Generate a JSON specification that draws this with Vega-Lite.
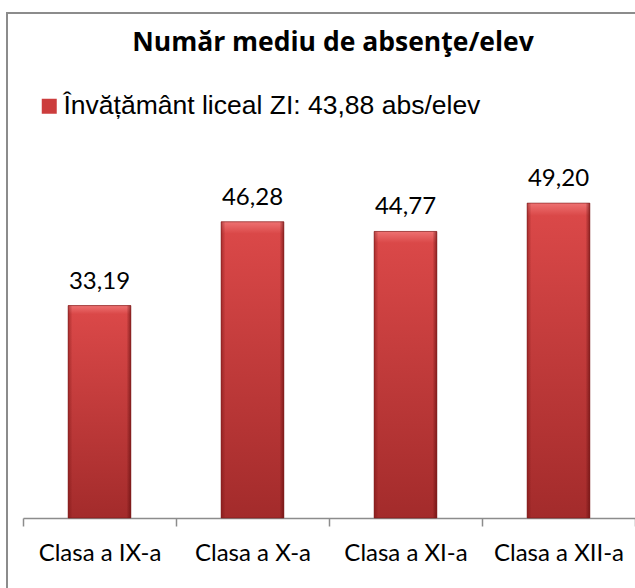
{
  "$schema": "https://vega.github.io/schema/vega-lite/v6.json",
  "width": 640,
  "height": 590,
  "autosize": {"type": "none"},
  "padding": {"left": 7, "top": 13, "right": 0, "bottom": 0},
  "background": "white",
  "config": {
    "view": {"stroke": "#8c8c8c", "strokeWidth": 2},
    "font": "Lato"
  },
  "title": {
    "text": "Număr mediu de absenţe/elev",
    "font": "Open Sans",
    "fontWeight": "bold",
    "fontSize": 26.5,
    "color": "black",
    "anchor": "middle",
    "offset": -43,
    "dx": 6
  },
  "data": {
    "values": [
      {"clasa": "Clasa a IX-a", "valoare": 33.19, "eticheta": "33,19", "serie": "Învățământ liceal ZI: 43,88 abs/elev"},
      {"clasa": "Clasa a X-a", "valoare": 46.28, "eticheta": "46,28", "serie": "Învățământ liceal ZI: 43,88 abs/elev"},
      {"clasa": "Clasa a XI-a", "valoare": 44.77, "eticheta": "44,77", "serie": "Învățământ liceal ZI: 43,88 abs/elev"},
      {"clasa": "Clasa a XII-a", "valoare": 49.20, "eticheta": "49,20", "serie": "Învățământ liceal ZI: 43,88 abs/elev"}
    ]
  },
  "encoding": {
    "x": {
      "field": "clasa",
      "type": "nominal",
      "sort": null,
      "scale": {"range": [16, 628], "paddingInner": 0, "paddingOuter": 0},
      "axis": {
        "title": null,
        "labelAngle": 0,
        "grid": false,
        "offset": -85,
        "domainColor": "#8c8c8c",
        "domainWidth": 1.5,
        "tickColor": "#8c8c8c",
        "tickWidth": 1.5,
        "tickSize": 8,
        "tickBand": "extent",
        "labelFont": "Lato",
        "labelFontSize": 24,
        "labelColor": "black",
        "labelPadding": 15
      }
    },
    "y": {
      "field": "valoare",
      "type": "quantitative",
      "scale": {"domain": [0, 78.9], "range": [505, 0], "nice": false, "zero": true},
      "axis": null
    }
  },
  "layer": [
    {
      "mark": {"type": "bar", "width": {"band": 0.41}},
      "encoding": {
        "color": {
          "field": "serie",
          "type": "nominal",
          "scale": {"range": ["#cc3d3d"]},
          "legend": {
            "orient": "none",
            "legendX": 29,
            "legendY": 80,
            "title": null,
            "symbolType": "square",
            "symbolSize": 225,
            "symbolStrokeWidth": 0,
            "symbolOpacity": 1,
            "labelFont": "Liberation Sans",
            "labelFontSize": 26.5,
            "labelColor": "black",
            "labelOffset": 1,
            "labelLimit": 0,
            "padding": 0
          }
        }
      }
    },
    {
      "mark": {
        "type": "bar",
        "width": {"band": 0.41},
        "fill": {"gradient": "linear", "x1": 0, "y1": 0, "x2": 0, "y2": 1,
          "stops": [
            {"offset": 0, "color": "#ee7272"},
            {"offset": 0.04, "color": "#da4848"},
            {"offset": 1, "color": "#a32b2b"}
          ]}
      }
    },
    {
      "mark": {
        "type": "bar",
        "width": {"band": 0.41},
        "stroke": "#7a1a1a",
        "strokeWidth": 0.6,
        "fill": {"gradient": "linear", "x1": 0, "y1": 0, "x2": 1, "y2": 0,
          "stops": [
            {"offset": 0, "color": "rgba(110,15,15,0.45)"},
            {"offset": 0.07, "color": "rgba(110,15,15,0)"},
            {"offset": 0.93, "color": "rgba(90,10,10,0)"},
            {"offset": 1, "color": "rgba(90,10,10,0.6)"}
          ]}
      }
    },
    {
      "mark": {"type": "text", "dy": -17, "baseline": "alphabetic", "font": "Lato", "fontSize": 24, "color": "black"},
      "encoding": {
        "text": {"field": "eticheta"}
      }
    }
  ]
}
